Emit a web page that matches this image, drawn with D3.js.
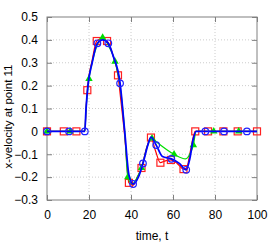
<!DOCTYPE html>
<html>
<head>
<meta charset="utf-8">
<script src="https://cdn.jsdelivr.net/npm/d3@7"></script>
<style>
  body { margin: 0; background: #fff; }
  text { font-family: "Liberation Sans", Arial, sans-serif; }
</style>
</head>
<body>
<div id="chart"></div>
<script>
// values
var xTicks = [0, 20, 40, 60, 80, 100];
var yTicks = [-0.3, -0.2, -0.1, 0, 0.1, 0.2, 0.3, 0.4, 0.5];

// red squares (markers) and its line
var redT = [0, 8, 14, 19.2, 23.7, 28.6, 33.8, 39, 45, 49.5, 54, 59, 65, 70.6, 76.7, 84, 90.8, 100];
var redV = [0, 0, 0, 0.18, 0.395, 0.395, 0.245, -0.225, -0.16, -0.027, -0.137, -0.125, -0.165, 0, 0, 0, 0, 0];
var redLineT = [0, 18, 18.6, 19.2, 21.5, 23.7, 26, 28.6, 31.5, 33.8, 35, 37, 39, 41, 43, 45, 47.5, 49.5, 51.5, 54, 56, 59, 62, 65, 66.5, 68, 69.5, 70.6, 100];
var redLineV = [0, 0, 0.1, 0.18, 0.31, 0.395, 0.405, 0.395, 0.33, 0.245, 0.15, -0.02, -0.225, -0.235, -0.2, -0.16, -0.07, -0.027, -0.08, -0.137, -0.13, -0.125, -0.14, -0.165, -0.16, -0.1, -0.03, 0, 0];

// green triangles and its line
var greenT = [0, 11, 20, 26.5, 32.4, 38.5, 45, 50, 60.5, 69.7, 79.4, 91.3];
var greenV = [0, 0, 0.23, 0.41, 0.305, -0.2, -0.16, -0.03, -0.1, -0.06, 0, 0];
var greenLineT = [0, 18, 18.6, 20, 22, 24, 26.5, 29, 32.4, 34.8, 37, 38.5, 40.5, 43, 45, 48, 50, 52, 60.5, 66, 68, 69.7, 71, 100];
var greenLineV = [0, 0, 0.1, 0.23, 0.32, 0.38, 0.41, 0.38, 0.305, 0.2, 0, -0.2, -0.23, -0.2, -0.16, -0.06, -0.03, -0.045, -0.1, -0.12, -0.1, -0.06, 0, 0];

// blue circles and the smooth blue curve
var blueT = [0, 10.5, 18, 24, 29.2, 34.8, 41, 45.7, 52, 59.2, 66.3, 75.4, 84.3, 95.2];
var blueV = [0, 0, 0, 0.385, 0.385, 0.21, -0.23, -0.14, -0.06, -0.12, -0.168, 0, 0, 0];
var curveT = [0, 18, 18.6, 19.5, 21.5, 24, 26.5, 29.2, 31.5, 34.8, 37, 39, 41, 43.5, 45.7, 48, 49.5, 52, 55, 59.2, 63, 66.3, 68, 69.5, 71, 100];
var curveV = [0, 0, 0.1, 0.2, 0.3, 0.385, 0.4, 0.385, 0.33, 0.21, 0, -0.19, -0.23, -0.2, -0.14, -0.06, -0.025, -0.06, -0.11, -0.12, -0.14, -0.168, -0.12, -0.04, 0, 0];

var W = 274, H = 249;
var m = {left: 47, right: 17, top: 17, bottom: 49};
var w = W - m.left - m.right, h = H - m.top - m.bottom;

var svg = d3.select("#chart").append("svg").attr("width", W).attr("height", H);
var g = svg.append("g").attr("transform", "translate(" + m.left + "," + m.top + ")");

var x = d3.scaleLinear().domain([0, 100]).range([0, w]);
var y = d3.scaleLinear().domain([-0.3, 0.5]).range([h, 0]);

// grid
g.selectAll(".gx").data(xTicks.slice(1, -1)).enter().append("line")
  .attr("x1", d => x(d)).attr("x2", d => x(d)).attr("y1", 0).attr("y2", h)
  .attr("stroke", "#ccc").attr("stroke-dasharray", "1,2");
g.selectAll(".gy").data(yTicks.slice(1, -1)).enter().append("line")
  .attr("y1", d => y(d)).attr("y2", d => y(d)).attr("x1", 0).attr("x2", w)
  .attr("stroke", "#ccc").attr("stroke-dasharray", "1,2");

// axes, ticks inward and mirrored
var axCol = "#808080";
function styleAxis(sel) {
  sel.select(".domain").remove();
  sel.selectAll(".tick line").attr("stroke", axCol);
  sel.selectAll("text").attr("fill", "#000").style("font-size", "12px");
}
g.append("g").attr("transform", "translate(0," + h + ")")
  .call(d3.axisBottom(x).tickValues(xTicks).tickSizeInner(-5).tickSizeOuter(0).tickPadding(10))
  .call(styleAxis);
g.append("g")
  .call(d3.axisTop(x).tickValues(xTicks).tickSizeInner(-5).tickSizeOuter(0).tickFormat(""))
  .call(styleAxis);
g.append("g")
  .call(d3.axisLeft(y).tickValues(yTicks).tickSizeInner(-5).tickSizeOuter(0).tickPadding(9).tickFormat(d3.format("")))
  .call(styleAxis);
g.append("g").attr("transform", "translate(" + w + ",0)")
  .call(d3.axisRight(y).tickValues(yTicks).tickSizeInner(-5).tickSizeOuter(0).tickFormat(""))
  .call(styleAxis);
g.append("rect").attr("width", w).attr("height", h)
  .attr("fill", "none").attr("stroke", axCol).attr("stroke-width", 1);

var zip = (a, b) => a.map((t, i) => [t, b[i]]);
var line = d3.line().x(d => x(d[0])).y(d => y(d[1])).curve(d3.curveMonotoneX);

// red squares
g.append("path").datum(zip(redLineT, redLineV)).attr("d", line)
  .attr("fill", "none").attr("stroke", "#ff0000").attr("stroke-width", 1.2);
g.selectAll(".sq").data(zip(redT, redV)).enter().append("rect")
  .attr("x", d => x(d[0]) - 3.5).attr("y", d => y(d[1]) - 3.5)
  .attr("width", 7).attr("height", 7)
  .attr("fill", "none").attr("stroke", "#ff2020").attr("stroke-width", 1.2);

// green triangles
g.append("path").datum(zip(greenLineT, greenLineV)).attr("d", line)
  .attr("fill", "none").attr("stroke", "#00e000").attr("stroke-width", 1.2);
var tri = d3.symbol().type(d3.symbolTriangle).size(24);
g.selectAll(".tr").data(zip(greenT, greenV)).enter().append("path")
  .attr("d", tri).attr("transform", d => "translate(" + x(d[0]) + "," + y(d[1]) + ")")
  .attr("fill", "#00dd00");

// blue curve + circles
g.append("path").datum(zip(curveT, curveV)).attr("d", line)
  .attr("fill", "none").attr("stroke", "#0000ff").attr("stroke-width", 1.8);
g.selectAll(".ci").data(zip(blueT, blueV)).enter().append("circle")
  .attr("cx", d => x(d[0])).attr("cy", d => y(d[1])).attr("r", 3.3)
  .attr("fill", "none").attr("stroke", "#2020ff").attr("stroke-width", 1.2);

// labels
svg.append("text").attr("x", m.left + w / 2).attr("y", 240)
  .attr("text-anchor", "middle").style("font-size", "12px").text("time, t");
svg.append("text").attr("transform", "translate(12," + (m.top + h / 2 + 8) + ") rotate(-90)")
  .attr("text-anchor", "middle").style("font-size", "11.5px").text("x-velocity at point 11");
</script>
</body>
</html>
